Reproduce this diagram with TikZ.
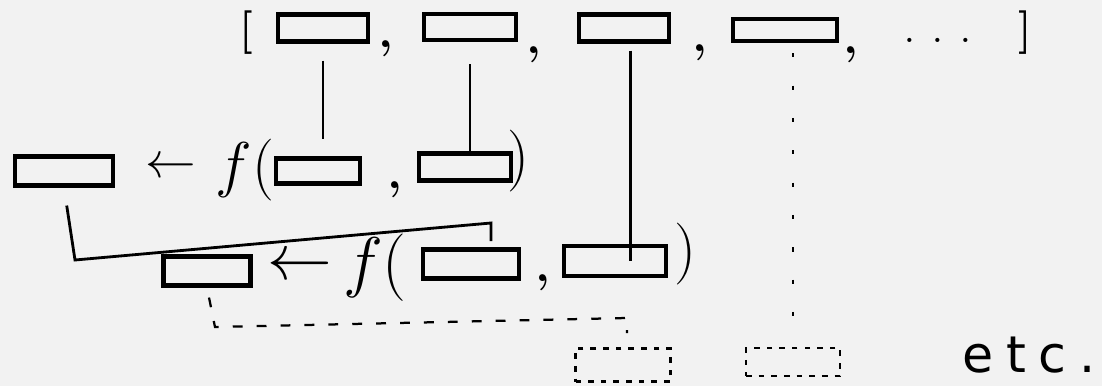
\RequirePackage{fix-cm}
\documentclass[tikz,border=0pt]{standalone}
\usepackage{fontspec}
\usepackage{xcolor}
\usetikzlibrary{positioning}
\newfontfamily\handfont[LetterSpace=25]{DejaVu Sans}
\definecolor{paper}{HTML}{F2F2F2}

\begin{document}
\begin{tikzpicture}[
x=0.025cm, y=-0.025cm,
wh/.style 2 args={minimum width=#1*0.025cm, minimum height=#2*0.025cm},
cell/.style={draw, rectangle, line width=3.2pt, inner sep=0pt},
hole/.style={draw, rectangle, line width=1.8pt, dash pattern=on 4pt off 5pt, inner sep=0pt},
glyph/.style={inner sep=0pt, font=\fontsize{44}{48}\selectfont},
sep/.style={inner sep=0pt, font=\fontsize{34}{38}\selectfont\bfseries},
link/.style={line width=2pt},
dashlink/.style={line width=1.6pt, dash pattern=on 7pt off 10pt},
dotlink/.style={line width=1.6pt, dash pattern=on 3pt off 20pt}
]
\fill[paper] (0,0) rectangle (1102,386);
\useasboundingbox (0,0) rectangle (1102,386);

% top list
\node[glyph, font=\fontsize{31}{34}\selectfont\bfseries] (open) at (246,33) {[};
\node[cell, wh={90}{27}] (t1) at (323,28) {};
\node[sep] (c1) at (386,49) {,};
\node[cell, wh={92}{26}] (t2) at (470,27) {};
\node[sep] (c2) at (534,55) {,};
\node[cell, wh={90}{27}] (t3) at (624,28) {};
\node[sep] (c3) at (700,53) {,};
\node[cell, wh={104}{22}] (t4) at (785,30) {};
\node[sep] (c4) at (851,55) {,};
\node[glyph, font=\fontsize{36}{40}\selectfont] (more) at (938,40) {.\ .\ .};
\node[glyph, font=\fontsize{31}{34}\selectfont\bfseries] (close) at (1025,33) {]};

% first call
\node[cell, wh={98}{29}] (m0) at (64,171) {};
\node[glyph, font=\fontsize{36}{40}\selectfont] (ar1) at (171,168) {$\leftarrow$};
\node[glyph] (f1) at (245,170) {$f($};
\node[cell, wh={84}{25}] (m1) at (318,171) {};
\node[sep] (c5) at (395,190) {,};
\node[cell, wh={92}{27}] (m2) at (465,167) {};
\node[glyph] (p1) at (518,161) {)};

% second call
\node[cell, wh={87}{29}] (b0) at (207,271) {};
\node[glyph, font=\fontsize{46}{50}\selectfont] (ar2) at (300,268) {$\leftarrow$};
\node[glyph, font=\fontsize{48}{52}\selectfont] (f2) at (375,268) {$f($};
\node[cell, wh={96}{29}] (b1) at (471,264) {};
\node[sep] (c6) at (543,283) {,};
\node[cell, wh={102}{30}] (b2) at (615,261) {};
\node[glyph] (p2) at (685,254) {)};

% later slots
\node[hole, wh={95}{33}] (d1) at (623,365) {};
\node[hole, wh={94}{28}] (d2) at (793,362) {};
\node[anchor=base west, inner sep=0pt, font=\fontsize{36}{40}\selectfont\handfont] (etc) at (962,372) {etc.};

\coordinate (bendA) at (75,260);
\coordinate (bendB) at (491,223);
\coordinate (bendC) at (215,327);
\coordinate (bendD) at (627,318);

\draw[link, shorten <=0.42cm, shorten >=0.42cm] (t1.south) -- (t1.south |- m1.north);
\draw[link, shorten <=0.55cm] (t2.south) -- (t2.south |- m2.north);
\draw[link, shorten <=0.17cm] ([xshift=0.17cm]t3.south) -- ([xshift=0.17cm]t3.south |- b2.center);
\draw[dotlink, shorten <=0.25cm, shorten >=0.75cm] ([xshift=0.2cm]t4.south) -- ([xshift=0.2cm]t4.south |- d2.north);
\draw[link, shorten <=0.45cm, shorten >=0.15cm] (m0.south) -- (bendA) -- (bendB) -- (bendB |- b1.north);
\draw[dashlink, shorten <=0.25cm, shorten >=0.35cm] (b0.south) -- (bendC) -- (bendD) -- (bendD |- d1.north);
\end{tikzpicture}
\end{document}
